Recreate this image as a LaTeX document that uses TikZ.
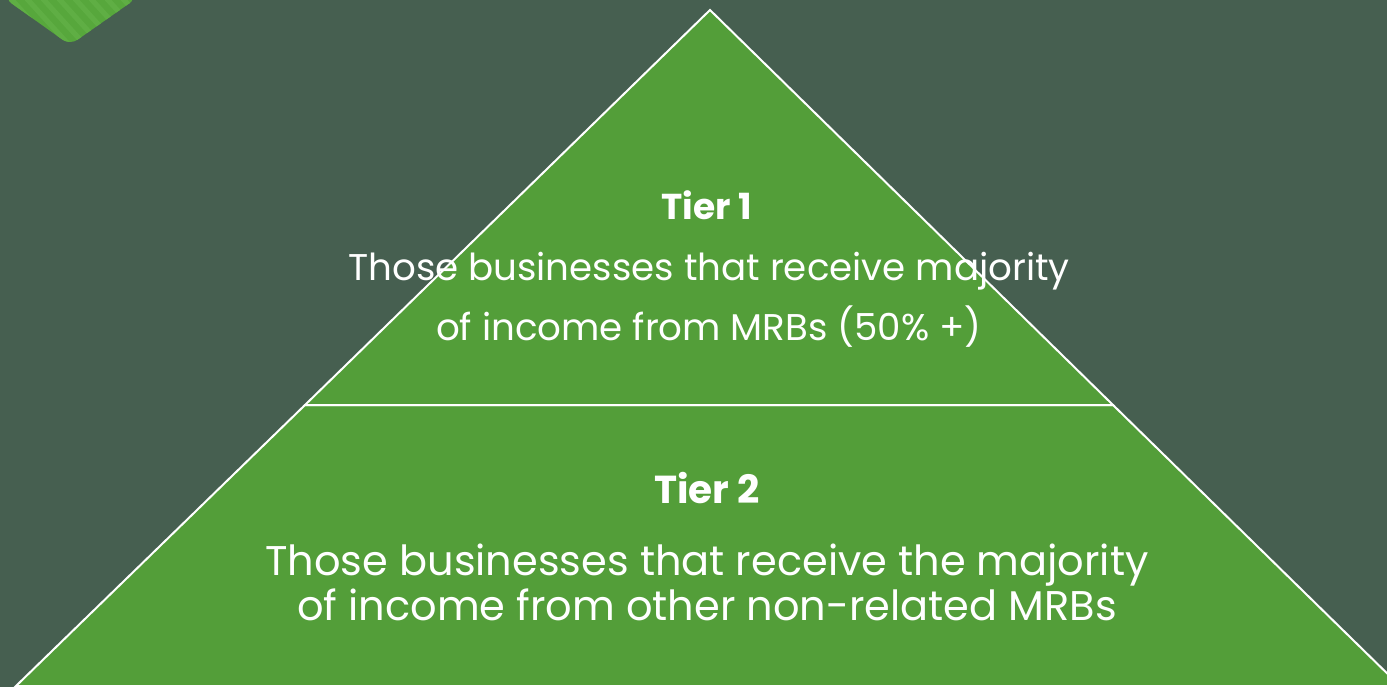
\documentclass[tikz,border=0pt]{standalone}
\usepackage{fontspec}
\setmainfont{Poppins}
\definecolor{bg}{HTML}{465F50}
\definecolor{tiergreen}{HTML}{539E39}
\definecolor{deco}{HTML}{57A73C}
\definecolor{decostripe}{HTML}{5FAE44}
\begin{document}
\begin{tikzpicture}[x=1pt,y=-1pt,
  tierbox/.style={fill=tiergreen,draw=white,line width=2pt,line join=miter},
  headtext/.style={text=white,inner sep=0pt,font=\bfseries\fontsize{36}{40}\selectfont},
  headtwo/.style={text=white,inner sep=0pt,font=\bfseries\fontsize{39}{40}\selectfont},
  bodyone/.style={text=white,inner sep=0pt,align=center,font=\fontsize{37.2}{60}\selectfont},
  bodytwo/.style={text=white,inner sep=0pt,align=center,font=\fontsize{41.5}{45}\selectfont}]
\fill[bg] (0,0) rectangle (1387,687);
\useasboundingbox (0,0) rectangle (1387,687);
% decoration top-left
\begin{scope}
  \clip[rounded corners=9pt] (4,-2) -- (70,45) -- (137,-2) -- cycle;
  \fill[deco] (0,-5) rectangle (150,50);
  \foreach \i in {-60,-44,...,160} {
    \fill[decostripe] (\i,-5) -- (\i+7,-5) -- (\i+57,50) -- (\i+50,50) -- cycle;
  }
\end{scope}
% pyramid
\coordinate (apex) at (710,10);
\coordinate (l1) at (305,405);
\coordinate (r1) at (1113,405);
\coordinate (l2) at (16,686);
\coordinate (r2) at (1400,686);
\begin{scope}
  \clip (0,0) rectangle (1387,687);
  \draw[tierbox] (l1) -- (r1) -- (r2) -- (l2) -- cycle;
  \draw[tierbox] (apex) -- (r1) -- (l1) -- cycle;
\end{scope}
\node[headtext,anchor=base] (t1head) at (707,220) {Tier 1};
\node[bodyone,anchor=base] (t1body) at (709,340) {Those businesses that receive majority\\of income from MRBs (50\% +)};
\node[headtwo,anchor=base] (t2head) at (707,503) {Tier 2};
\node[bodytwo,anchor=base] (t2body) at (707,620) {Those businesses that receive the majority\\of income from other non-related MRBs};
\end{tikzpicture}
\end{document}
